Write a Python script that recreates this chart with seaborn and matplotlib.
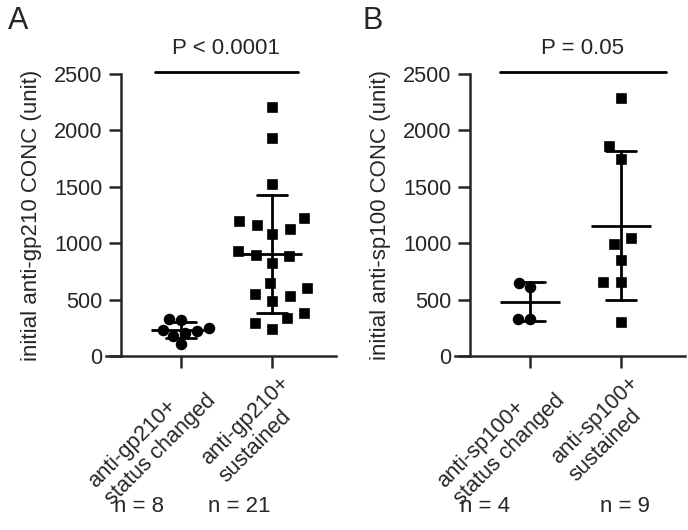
import pandas as pd
import matplotlib
matplotlib.use("Agg")
import matplotlib.pyplot as plt
import matplotlib.transforms as mtransforms
import seaborn as sns

# values (unit)
gp210_changed = [328, 322, 246, 230, 222, 204, 180, 104]
gp210_sustained = [2205, 1935, 1522, 1226, 1200, 1161, 1126, 1079, 931, 895, 887,
                   827, 644, 600, 547, 535, 490, 378, 334, 290, 237]
sp100_changed = [650, 609, 331, 331]
sp100_sustained = [2285, 1862, 1744, 1043, 993, 851, 653, 653, 304]

gp210_groups = ["anti-gp210+\nstatus changed", "anti-gp210+\nsustained"]
sp100_groups = ["anti-sp100+\nstatus changed", "anti-sp100+\nsustained"]
gp210_n = ["n = 8", "n = 21"]
sp100_n = ["n = 4", "n = 9"]
y_ticks = [0, 500, 1000, 1500, 2000, 2500]


def draw_panel(fig, ax, groups, changed, sustained, ylabel, n_labels, n_x, p_text, p_x, bar_x):
    df = pd.DataFrame({
        "group": [groups[0]] * len(changed) + [groups[1]] * len(sustained),
        "value": changed + sustained,
    })

    # points (white edge keeps squares apart like the original)
    sns.swarmplot(data=df[df["group"] == groups[0]], x="group", y="value", order=groups,
                  marker="o", color="black", size=8.3, ax=ax)
    sns.swarmplot(data=df[df["group"] == groups[1]], x="group", y="value", order=groups,
                  marker="s", color="black", size=10.2, edgecolor="white",
                  linewidth=2.4, ax=ax)

    # mean +/- SD
    sns.pointplot(data=df, x="group", y="value", order=groups, errorbar="sd",
                  capsize=0.33, color="black", markers="_", markersize=43,
                  markeredgewidth=2, linestyle="none", err_kws={"linewidth": 2}, ax=ax)
    for line in ax.lines:
        line.set_zorder(5)

    ax.set_xlim(-0.83, 1.70)
    ax.set_ylim(0, 2500)
    ax.set_yticks(y_ticks)
    ax.set_xticks([0, 1])
    ax.set_xticklabels(groups, rotation=45, ha="right", rotation_mode="anchor",
                       multialignment="left")
    ax.set_xlabel("")
    ax.set_ylabel(ylabel, fontsize=16, labelpad=9)

    sns.despine(ax=ax)
    ax.spines["left"].set_position(("data", -0.66))
    ax.spines["left"].set_bounds(0, 2500)
    for side in ["left", "bottom"]:
        ax.spines[side].set_linewidth(1.8)
    ax.tick_params(axis="both", direction="out", length=8.5, width=1.8,
                   labelsize=15.7, pad=5)

    # nudge the rotated labels to the right, as in the original
    shift = mtransforms.ScaledTranslation(7 / 100, 2 / 100, fig.dpi_scale_trans)
    for lab in ax.get_xticklabels():
        lab.set_transform(lab.get_transform() + shift)

    # significance bar
    ax.plot(bar_x, [2518, 2518], color="black", lw=2, clip_on=False)
    ax.text(p_x, 2730, p_text, ha="center", va="center", fontsize=16)

    for lab, x in zip(n_labels, n_x):
        ax.text(x, -0.535, lab, transform=ax.get_xaxis_transform(),
                ha="center", va="center", fontsize=16)


def main():
    sns.set_style("ticks")
    plt.rcParams["font.family"] = ["Liberation Sans", "DejaVu Sans"]

    fig = plt.figure(figsize=(6.88, 5.30), dpi=100)
    ax_a = fig.add_axes([106 / 688, 174 / 530, 230 / 688, 282 / 530])
    ax_b = fig.add_axes([455 / 688, 174 / 530, 230 / 688, 282 / 530])

    draw_panel(fig, ax_a, gp210_groups, gp210_changed, gp210_sustained,
               "initial anti-gp210 CONC (unit)", gp210_n, [-0.47, 0.64],
               "P < 0.0001", 0.49, [-0.29, 1.28])
    draw_panel(fig, ax_b, sp100_groups, sp100_changed, sp100_sustained,
               "initial anti-sp100 CONC (unit)", sp100_n, [-0.50, 1.04],
               "P = 0.05", 0.57, [-0.34, 1.49])

    fig.text(8 / 688, 1 - 6 / 530, "A", fontsize=22, va="top")
    fig.text(362 / 688, 1 - 6 / 530, "B", fontsize=22, va="top")

    fig.savefig("out.png", dpi=100)


if __name__ == "__main__":
    main()
